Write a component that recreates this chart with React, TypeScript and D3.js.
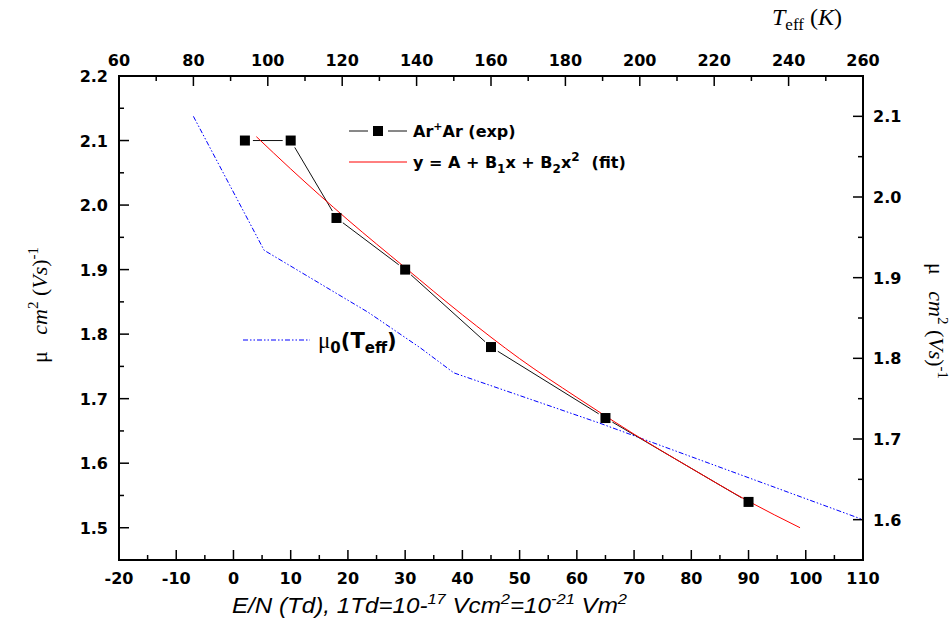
import React from 'react';
import * as d3 from 'd3';

// Experimental Ar+ in Ar mobility vs E/N
const expEN = [2, 10, 18, 30, 45, 65, 90];
const expMu = [2.1, 2.1, 1.98, 1.9, 1.78, 1.67, 1.54];
// quadratic fit curve
const fitEN = [4, 10, 20, 30, 40, 50, 60, 70, 80, 90, 99];
const fitMu = [2.106, 2.056, 1.977, 1.903, 1.83, 1.762, 1.702, 1.645, 1.592, 1.541, 1.5];
// mu0(Teff) on top / right axes
const mu0T = [80, 99, 127, 141, 150, 189, 260];
const mu0Val = [2.1, 1.934, 1.857, 1.813, 1.782, 1.72, 1.6];

const bottomTicks = [-20, -10, 0, 10, 20, 30, 40, 50, 60, 70, 80, 90, 100, 110];
const bottomMinor = [-15, -5, 5, 15, 25, 35, 45, 55, 65, 75, 85, 95, 105];
const topTicks = [60, 80, 100, 120, 140, 160, 180, 200, 220, 240, 260];
const topMinor = [70, 90, 110, 130, 150, 170, 190, 210, 230, 250];
const leftTicks = [1.5, 1.6, 1.7, 1.8, 1.9, 2.0, 2.1, 2.2];
const leftMinor = [1.55, 1.65, 1.75, 1.85, 1.95, 2.05, 2.15];
const rightTicks = [1.6, 1.7, 1.8, 1.9, 2.0, 2.1];
const rightMinor = [1.55, 1.65, 1.75, 1.85, 1.95, 2.05, 2.15];

const W = 951, H = 635;
const L = 119, R = 863, T = 76, B = 560;
const SANS = 'Arial, "Liberation Sans", sans-serif';
const HEAVY = '"DejaVu Sans", Arial, sans-serif';
const SERIF = '"Times New Roman", "Liberation Serif", serif';

export default function App() {
  const xB = d3.scaleLinear().domain([-20, 110]).range([L, R]);
  const xT = d3.scaleLinear().domain([60, 260]).range([L, R]);
  const yL = d3.scaleLinear().domain([1.45, 2.2]).range([B, T]);
  const yR = d3.scaleLinear().domain([1.55, 2.15]).range([B, T]);

  const expPts = expEN.map((x, i) => [xB(x), yL(expMu[i])] as [number, number]);
  const gap = 8;
  const segs = expPts.slice(1).map((p, i) => {
    const a = expPts[i];
    const dx = p[0] - a[0], dy = p[1] - a[1];
    const len = Math.hypot(dx, dy);
    const ux = dx / len, uy = dy / len;
    return { x1: a[0] + ux * gap, y1: a[1] + uy * gap, x2: p[0] - ux * gap, y2: p[1] - uy * gap };
  });

  const fitLine = d3.line<number>().x((d, i) => xB(fitEN[i])).y(d => yL(d)).curve(d3.curveMonotoneX);
  const mu0Line = d3.line<number>().x((d, i) => xT(mu0T[i])).y(d => yR(d));

  const tickFont = { fontFamily: HEAVY, fontWeight: 700, fontSize: 16, fill: '#000' } as const;

  return (
    <svg width={W} height={H} style={{ position: 'absolute', left: 0, top: 0, background: '#fff' }}>
      <rect x={0} y={0} width={W} height={H} fill="#fff" />
      <defs>
        <clipPath id="plot"><rect x={L} y={T} width={R - L} height={B - T} /></clipPath>
      </defs>

      {/* ticks */}
      <g stroke="#000" strokeWidth={1.5}>
        {bottomTicks.map(t => <line key={'bt' + t} x1={xB(t)} x2={xB(t)} y1={B} y2={B - 10} />)}
        {bottomMinor.map(t => <line key={'bm' + t} x1={xB(t)} x2={xB(t)} y1={B} y2={B - 5} />)}
        {topTicks.map(t => <line key={'tt' + t} x1={xT(t)} x2={xT(t)} y1={T} y2={T + 10} />)}
        {topMinor.map(t => <line key={'tm' + t} x1={xT(t)} x2={xT(t)} y1={T} y2={T + 5} />)}
        {leftTicks.map(t => <line key={'lt' + t} x1={L} x2={L + 10} y1={yL(t)} y2={yL(t)} />)}
        {leftMinor.map(t => <line key={'lm' + t} x1={L} x2={L + 5} y1={yL(t)} y2={yL(t)} />)}
        {rightTicks.map(t => <line key={'rt' + t} x1={R} x2={R - 10} y1={yR(t)} y2={yR(t)} />)}
        {rightMinor.map(t => <line key={'rm' + t} x1={R} x2={R - 5} y1={yR(t)} y2={yR(t)} />)}
      </g>

      {/* tick labels */}
      <g {...tickFont}>
        {bottomTicks.map(t => <text key={'btl' + t} x={xB(t)} y={584} textAnchor="middle">{t}</text>)}
        {topTicks.map(t => <text key={'ttl' + t} x={xT(t)} y={66} textAnchor="middle">{t}</text>)}
        {leftTicks.map(t => <text key={'ltl' + t} x={108} y={yL(t) + 6} textAnchor="end">{t.toFixed(1)}</text>)}
        {rightTicks.map(t => <text key={'rtl' + t} x={873} y={yR(t) + 6} textAnchor="start">{t.toFixed(1)}</text>)}
      </g>

      {/* data */}
      <g clipPath="url(#plot)">
        <path d={mu0Line(mu0Val) || ''} fill="none" stroke="#0000ff" strokeWidth={1} strokeDasharray="5,2,1.5,2,1.5,2" />
        {segs.map((s, i) => <line key={'s' + i} {...s} stroke="#111" strokeWidth={1} />)}
        <path d={fitLine(fitMu) || ''} fill="none" stroke="#ff0000" strokeWidth={1} />
        {expPts.map((p, i) => <rect key={'m' + i} x={p[0] - 5} y={p[1] - 5} width={10} height={10} fill="#000" />)}
      </g>

      {/* frame */}
      <rect x={L} y={T} width={R - L} height={B - T} fill="none" stroke="#000" strokeWidth={2} />

      {/* legend */}
      <g>
        <line x1={349} x2={368} y1={131} y2={131} stroke="#111" strokeWidth={1} />
        <rect x={373} y={126} width={10} height={10} fill="#000" />
        <line x1={388} x2={407} y1={131} y2={131} stroke="#111" strokeWidth={1} />
        <text x={413} y={137} fontFamily={HEAVY} fontWeight={700} fontSize={16}>
          Ar<tspan dy={-7} fontSize={11}>+</tspan><tspan dy={7}>Ar (exp)</tspan>
        </text>
        <line x1={349} x2={407} y1={162} y2={162} stroke="#ff0000" strokeWidth={1} />
        <text x={413} y={168} fontFamily={HEAVY} fontWeight={700} fontSize={16} xmlSpace="preserve">
          y = A + B<tspan dy={5} fontSize={12}>1</tspan><tspan dy={-5}>x + B</tspan><tspan dy={5} fontSize={12}>2</tspan><tspan dy={-5}>x</tspan><tspan dy={-7} fontSize={12}>2</tspan><tspan dy={7} dx={12}>(fit)</tspan>
        </text>
        <line x1={243} x2={310} y1={340} y2={340} stroke="#0000ff" strokeWidth={1} strokeDasharray="5,2,1.5,2,1.5,2" />
        <text x={318} y={348} fontFamily={HEAVY} fontWeight={700} fontSize={21}>
          <tspan fontFamily={SERIF} fontWeight={400} fontSize={23}>μ</tspan><tspan dy={5} fontSize={15}>0</tspan><tspan dy={-5}>(T</tspan><tspan dy={5} fontSize={15}>eff</tspan><tspan dy={-5}>)</tspan>
        </text>
      </g>

      {/* axis titles */}
      <text transform="translate(47,305) rotate(-90)" textAnchor="middle" fontFamily={SERIF} fontSize={22} xmlSpace="preserve">
        μ   <tspan fontStyle="italic">cm</tspan><tspan dy={-9} fontSize={15}>2</tspan><tspan dy={9}> (</tspan><tspan fontStyle="italic">Vs</tspan>)<tspan dy={-9} fontSize={15}>-1</tspan>
      </text>
      <text transform="translate(929,321) rotate(90)" textAnchor="middle" fontFamily={SERIF} fontSize={22} xmlSpace="preserve">
        μ   <tspan fontStyle="italic">cm</tspan><tspan dy={-9} fontSize={15}>2</tspan><tspan dy={9}> (</tspan><tspan fontStyle="italic">Vs</tspan>)<tspan dy={-9} fontSize={15}>-1</tspan>
      </text>
      <text x={772} y={25} fontFamily={SERIF} fontSize={24}>
        <tspan fontStyle="italic">T</tspan><tspan dy={5} fontSize={17}>eff</tspan><tspan dy={-5}> (</tspan><tspan fontStyle="italic">K</tspan>)
      </text>
      <text x={232} y={613} textLength={395} lengthAdjust="spacingAndGlyphs" fontFamily={'"Liberation Sans Narrow", "Arial Narrow", ' + SANS} fontStyle="italic" fontSize={22}>
        E/N (Td), 1Td=10-<tspan dy={-9} fontSize={15}>17</tspan><tspan dy={9}> Vcm</tspan><tspan dy={-9} fontSize={15}>2</tspan><tspan dy={9}>=10</tspan><tspan dy={-9} fontSize={15}>-21</tspan><tspan dy={9}> Vm</tspan><tspan dy={-9} fontSize={15}>2</tspan>
      </text>
    </svg>
  );
}
